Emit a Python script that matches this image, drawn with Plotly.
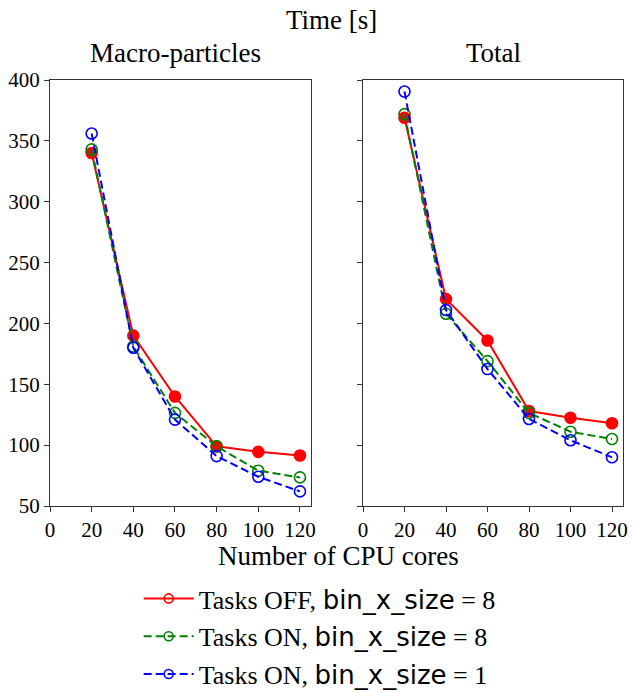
import plotly.graph_objects as go

cores = [20, 40, 60, 80, 100, 120]

macro_off_8 = [340, 190, 140, 99, 94.5, 91.5]
macro_on_8 = [343, 181, 126.5, 99, 79, 73.5]
macro_on_1 = [356, 180, 121, 91, 74, 62]

total_off_8 = [369, 220, 186, 128, 122.5, 118]
total_on_8 = [372, 208, 169, 126.5, 111, 105]
total_on_1 = [390.5, 211, 162.5, 121.5, 104, 90]

x_ticks = [0, 20, 40, 60, 80, 100, 120]
y_ticks = [50, 100, 150, 200, 250, 300, 350, 400]

labels = [
    "Tasks OFF, <span style='font-family:DejaVu Sans'>bin_x_size</span> = 8",
    "Tasks ON, <span style='font-family:DejaVu Sans'>bin_x_size</span> = 8",
    "Tasks ON, <span style='font-family:DejaVu Sans'>bin_x_size</span> = 1",
]
colors = ["#ff0000", "#008000", "#0000ff"]
dashes = ["solid", "8px,4px", "8px,4px"]

SERIF = "Liberation Serif, serif"
W, H = 633, 693

fig = go.Figure()

series = [
    ("x", "y", [macro_off_8, macro_on_8, macro_on_1]),
    ("x2", "y2", [total_off_8, total_on_8, total_on_1]),
]
for xa, ya, ys in series:
    for i, vals in enumerate(ys):
        filled = (i == 0)
        fig.add_trace(go.Scatter(
            x=cores, y=vals, xaxis=xa, yaxis=ya, mode="lines+markers",
            line=dict(color=colors[i], width=2, dash=dashes[i]),
            marker=dict(symbol="circle" if filled else "circle-open", size=11,
                        color=colors[i], line=dict(width=1.6, color=colors[i])),
            showlegend=False,
        ))

for i in range(3):
    fig.add_trace(go.Scatter(
        x=[None], y=[None], mode="lines+markers", name=labels[i],
        line=dict(color=colors[i], width=2, dash=dashes[i]),
        marker=dict(symbol="circle-open", size=9, color=colors[i], line=dict(width=1.6, color=colors[i])),
        legendgroup=str(i),
    ))

axis_common = dict(
    showgrid=False, zeroline=False, showline=True, linecolor="#333", linewidth=1.3,
    mirror=True, ticks="outside", ticklen=5, tickwidth=1.2, tickcolor="#333",
    automargin=False,
)
tickfont = dict(family=SERIF, size=21, color="black")
fig.update_layout(
    width=W, height=H, margin=dict(l=0, r=0, t=0, b=0, autoexpand=False),
    paper_bgcolor="white", plot_bgcolor="white",
    xaxis=dict(domain=[50 / W, 311 / W], range=[0, 125.3], tickvals=x_ticks, anchor="y",
               tickfont=tickfont, **axis_common),
    xaxis2=dict(domain=[363 / W, 623 / W], range=[0, 125.3], tickvals=x_ticks, anchor="y2",
                tickfont=tickfont, **axis_common),
    yaxis=dict(domain=[1 - 506 / H, 1 - 80 / H], range=[50, 400], tickvals=y_ticks, anchor="x",
               tickfont=tickfont, **axis_common),
    yaxis2=dict(domain=[1 - 506 / H, 1 - 80 / H], range=[50, 400], tickvals=y_ticks, anchor="x2",
                showticklabels=False, **axis_common),
    legend=dict(orientation="v", x=0.505, xanchor="center", y=1 - 575 / H, yanchor="top",
                font=dict(family=SERIF, size=26, color="black"), tracegroupgap=1,
                bgcolor="rgba(0,0,0,0)", itemwidth=50),
    font=dict(family=SERIF, color="black"),
)

ann = [
    ("Time [s]", 331, 20, 27),
    ("Macro-particles", 175, 53, 27),
    ("Total", 493, 53, 27),
    ("Number of CPU cores", 338, 556, 27),
]
for text, px, py, fs in ann:
    fig.add_annotation(text=text, x=px / W, y=1 - py / H, xref="paper", yref="paper",
                       showarrow=False, xanchor="center", yanchor="middle",
                       font=dict(family=SERIF, size=fs, color="black"))

fig.write_html("out.html", config={"displayModeBar": False},
               post_script="document.body.style.margin='0px';document.body.style.overflow='hidden';")
